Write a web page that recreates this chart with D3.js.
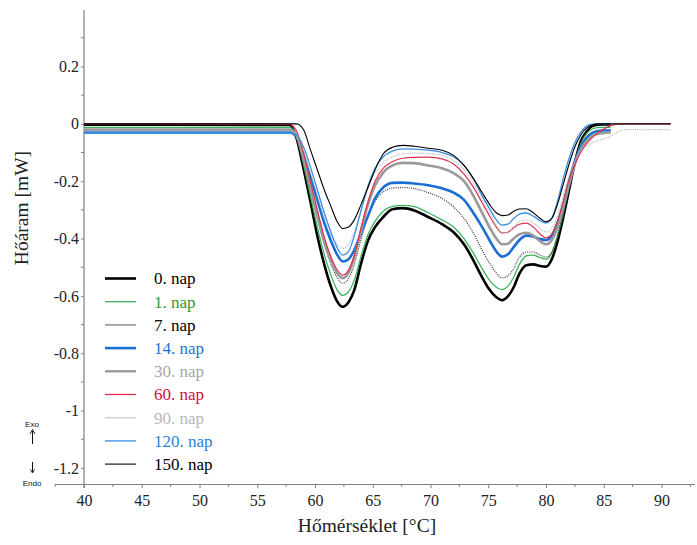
<!DOCTYPE html>
<html>
<head>
<meta charset="utf-8">
<script src="https://cdn.jsdelivr.net/npm/d3@7"></script>
<style>
  html, body { margin: 0; padding: 0; background: #fff; }
  svg { display: block; }
  .serif { font-family: "Liberation Serif", "Times New Roman", Times, serif; }
  .sans { font-family: "Liberation Sans", Arial, sans-serif; }
</style>
</head>
<body>
<svg id="chart" width="697" height="545"></svg>
<script>
// ---- data ----
const temps = [40, 57.8, 58.4, 59.0, 59.6, 60.2, 60.8, 61.4, 61.9, 62.4, 62.9, 63.4, 64.0, 64.6, 65.2, 65.9, 66.7, 67.6, 68.6, 69.8, 71.0, 72.0, 72.9, 73.7, 74.4, 75.1, 75.7, 76.2, 76.7, 77.2, 77.7, 78.3, 78.9, 79.5, 80.0, 80.5, 81.0, 81.5, 82.0, 82.5, 83.0, 83.5, 84.0, 84.5, 85.0, 85.6, 86.2, 86.8, 90.8];

const nap0 = [-0.003, -0.004, -0.05, -0.155, -0.27, -0.39, -0.49, -0.57, -0.618, -0.638, -0.622, -0.58, -0.485, -0.406, -0.36, -0.325, -0.298, -0.294, -0.302, -0.325, -0.35, -0.378, -0.42, -0.475, -0.53, -0.578, -0.605, -0.615, -0.602, -0.57, -0.522, -0.493, -0.49, -0.496, -0.498, -0.472, -0.41, -0.325, -0.23, -0.135, -0.062, -0.028, -0.008, -0.003, -0.002, -0.002, null, null, null];
const nap1 = [-0.012, -0.012, -0.045, -0.14, -0.25, -0.36, -0.455, -0.53, -0.578, -0.598, -0.585, -0.545, -0.46, -0.385, -0.34, -0.305, -0.288, -0.284, -0.289, -0.31, -0.335, -0.36, -0.4, -0.45, -0.5, -0.545, -0.57, -0.578, -0.566, -0.535, -0.49, -0.46, -0.458, -0.467, -0.472, -0.45, -0.39, -0.31, -0.22, -0.135, -0.07, -0.035, -0.018, -0.013, -0.012, -0.012, null, null, null];
const nap7 = [-0.02, -0.02, -0.05, -0.13, -0.23, -0.33, -0.42, -0.49, -0.535, -0.556, -0.54, -0.49, -0.4, -0.32, -0.27, -0.238, -0.224, -0.222, -0.226, -0.24, -0.26, -0.29, -0.33, -0.38, -0.435, -0.485, -0.52, -0.537, -0.53, -0.505, -0.465, -0.447, -0.447, -0.458, -0.465, -0.448, -0.39, -0.31, -0.22, -0.14, -0.08, -0.045, -0.03, -0.024, -0.022, -0.022, null, null, null];
const nap14 = [-0.03, -0.03, -0.045, -0.11, -0.185, -0.265, -0.345, -0.41, -0.455, -0.48, -0.472, -0.44, -0.38, -0.32, -0.26, -0.222, -0.206, -0.205, -0.208, -0.214, -0.225, -0.24, -0.265, -0.31, -0.355, -0.405, -0.445, -0.463, -0.455, -0.43, -0.405, -0.39, -0.393, -0.402, -0.405, -0.39, -0.345, -0.28, -0.2, -0.13, -0.08, -0.05, -0.032, -0.025, -0.023, -0.023, null, null, null];
const nap30 = [-0.02, -0.02, -0.04, -0.12, -0.22, -0.32, -0.41, -0.48, -0.52, -0.538, -0.52, -0.465, -0.37, -0.28, -0.215, -0.17, -0.145, -0.136, -0.137, -0.145, -0.155, -0.172, -0.2, -0.25, -0.305, -0.36, -0.4, -0.42, -0.418, -0.4, -0.385, -0.38, -0.39, -0.41, -0.42, -0.405, -0.36, -0.29, -0.21, -0.14, -0.09, -0.06, -0.042, -0.035, -0.032, -0.03, null, null, null];
const nap60 = [0.0, -0.002, -0.025, -0.1, -0.2, -0.3, -0.395, -0.465, -0.508, -0.528, -0.51, -0.46, -0.36, -0.27, -0.2, -0.155, -0.132, -0.12, -0.117, -0.116, -0.122, -0.14, -0.175, -0.22, -0.27, -0.32, -0.36, -0.38, -0.378, -0.362, -0.35, -0.346, -0.36, -0.385, -0.398, -0.385, -0.34, -0.27, -0.195, -0.14, -0.1, -0.07, -0.048, -0.03, -0.018, -0.006, -0.001, 0.0, 0.0];
const nap90 = [-0.025, -0.025, -0.035, -0.09, -0.17, -0.25, -0.33, -0.39, -0.42, -0.434, -0.42, -0.375, -0.3, -0.225, -0.17, -0.135, -0.115, -0.105, -0.102, -0.104, -0.11, -0.128, -0.16, -0.205, -0.255, -0.31, -0.355, -0.38, -0.378, -0.36, -0.342, -0.336, -0.345, -0.365, -0.377, -0.365, -0.32, -0.25, -0.18, -0.13, -0.095, -0.078, -0.066, -0.058, -0.052, -0.042, -0.028, -0.02, -0.02];
const nap120 = [-0.032, -0.032, -0.038, -0.08, -0.15, -0.23, -0.31, -0.38, -0.43, -0.458, -0.445, -0.39, -0.3, -0.215, -0.155, -0.115, -0.095, -0.087, -0.088, -0.092, -0.1, -0.115, -0.145, -0.19, -0.245, -0.295, -0.335, -0.353, -0.35, -0.33, -0.315, -0.311, -0.322, -0.338, -0.346, -0.33, -0.27, -0.19, -0.12, -0.065, -0.03, -0.008, -0.001, 0.0, 0.0, 0.0, null, null, null];
const nap150 = [0.0, 0.0, 0.0, -0.02, -0.09, -0.16, -0.23, -0.29, -0.34, -0.365, -0.36, -0.335, -0.28, -0.22, -0.16, -0.105, -0.082, -0.075, -0.078, -0.085, -0.092, -0.11, -0.145, -0.19, -0.235, -0.28, -0.31, -0.32, -0.318, -0.305, -0.297, -0.296, -0.31, -0.33, -0.342, -0.33, -0.28, -0.21, -0.14, -0.08, -0.04, -0.015, -0.004, 0.0, 0.0, 0.0, 0.0, 0.0, 0.0];

const seriesNames = ["0. nap", "1. nap", "7. nap", "14. nap", "30. nap", "60. nap", "90. nap", "120. nap", "150. nap"];
const seriesValues = [nap0, nap1, nap7, nap14, nap30, nap60, nap90, nap120, nap150];

const yTicks = [0.2, 0, -0.2, -0.4, -0.6, -0.8, -1, -1.2];
const xTicks = [40, 45, 50, 55, 60, 65, 70, 75, 80, 85, 90];

// ---- styles ----
const styles = [
  { color: "#000000", width: 2.6, dash: null, text: "#000000", legColor: "#000000", legWidth: 2.6 },
  { color: "#3cb35c", width: 1.3, dash: null, text: "#1f9e3e", legColor: "#3cb35c", legWidth: 1.3 },
  { color: "#333333", width: 1.2, dash: "1,1.2", text: "#000000", legColor: "#a0a0a0", legWidth: 1.8 },
  { color: "#1a6fd6", width: 2.6, dash: null, text: "#1f72d8", legColor: "#1a6fd6", legWidth: 2.6 },
  { color: "#9a9a9a", width: 2.6, dash: null, text: "#a6a6a6", legColor: "#9a9a9a", legWidth: 2.4 },
  { color: "#e0304c", width: 1.2, dash: null, text: "#d0103c", legColor: "#e0304c", legWidth: 1.3 },
  { color: "#b0b0b0", width: 1.2, dash: "1,1.2", text: "#b8b8b8", legColor: "#d0d0d0", legWidth: 1.5 },
  { color: "#3a8ee6", width: 1.3, dash: null, text: "#2a7fe0", legColor: "#3a8ee6", legWidth: 1.3 },
  { color: "#000000", width: 1.1, dash: null, text: "#000000", legColor: "#000000", legWidth: 1.1 }
];

const svg = d3.select("#chart");
const x = d3.scaleLinear().domain([40, 92.9]).range([84, 695]);
const y = d3.scaleLinear().domain([-1.256, 0.397]).range([484, 10]);

const axisColor = "#808080";

// x axis
const xAxis = d3.axisBottom(x).tickValues(xTicks).tickSize(4).tickFormat(d3.format("d"));
const gx = svg.append("g").attr("transform", "translate(0,484)").call(xAxis);
gx.attr("font-family", null).attr("font-size", null);
gx.select(".domain").remove();
gx.append("line").attr("x1", x(37.5)).attr("x2", x(92.9)).attr("y1", 0.5).attr("y2", 0.5)
  .attr("stroke", axisColor).attr("stroke-width", 1.2);
gx.selectAll(".tick line").attr("stroke", axisColor);
gx.selectAll(".tick text").attr("class", "serif").attr("fill", "#222").style("font-size", "16px").attr("dy", "0.95em");
const xMinor = [37.5, 42.5, 47.5, 52.5, 57.5, 62.5, 67.5, 72.5, 77.5, 82.5, 87.5, 92.5];
gx.selectAll(".minor").data(xMinor).enter().append("line")
  .attr("x1", d => x(d)).attr("x2", d => x(d)).attr("y1", 0).attr("y2", 3)
  .attr("stroke", axisColor);

// y axis
const yAxis = d3.axisLeft(y).tickValues(yTicks).tickSize(3).tickFormat(d => d3.format("")(d).replace("\u2212", "-"));
const gy = svg.append("g").attr("transform", "translate(84,0)").call(yAxis);
gy.attr("font-family", null).attr("font-size", null);
gy.select(".domain").remove();
gy.append("line").attr("x1", 0).attr("x2", 0).attr("y1", 10).attr("y2", 488)
  .attr("stroke", axisColor).attr("stroke-width", 1.2);
gy.selectAll(".tick line").attr("stroke", axisColor);
gy.selectAll(".tick text").attr("class", "serif").attr("fill", "#222").style("font-size", "16px").attr("x", -5);
const yMinor = [0.3, 0.1, -0.1, -0.3, -0.5, -0.7, -0.9, -1.1];
gy.selectAll(".minor").data(yMinor).enter().append("line")
  .attr("x1", -3).attr("x2", 0).attr("y1", d => y(d)).attr("y2", d => y(d))
  .attr("stroke", axisColor);

// curves
const line = d3.line()
  .defined(d => d[1] !== null)
  .x(d => x(d[0])).y(d => y(d[1]))
  .curve(d3.curveMonotoneX);

seriesValues.forEach((vals, i) => {
  const pts = temps.map((t, j) => [t, vals[j]]);
  svg.append("path").datum(pts)
    .attr("d", line)
    .attr("fill", "none")
    .attr("stroke", styles[i].color)
    .attr("stroke-width", styles[i].width)
    .attr("stroke-dasharray", styles[i].dash)
    .attr("stroke-linejoin", "round");
});

// legend
const lg = svg.append("g");
seriesNames.forEach((name, i) => {
  const cy = 278.5 + i * 23.2;
  lg.append("line").attr("x1", 105).attr("x2", 136).attr("y1", cy).attr("y2", cy)
    .attr("stroke", styles[i].legColor).attr("stroke-width", styles[i].legWidth);
  lg.append("text").attr("class", "serif").attr("x", 154).attr("y", cy).attr("dy", "0.35em")
    .style("font-size", "17px").attr("fill", styles[i].text)
    .text(name);
});

// axis titles
svg.append("text").attr("class", "serif").attr("x", 367).attr("y", 532).attr("text-anchor", "middle")
  .style("font-size", "19.5px").attr("fill", "#222")
  .text("Hőmérséklet [°C]");
svg.append("text").attr("class", "serif").attr("transform", "translate(28,208) rotate(-90)").attr("text-anchor", "middle")
  .style("font-size", "19.5px").attr("fill", "#222")
  .text("Hőáram [mW]");

// Exo / Endo
svg.append("text").attr("class", "sans").attr("x", 32).attr("y", 427).attr("text-anchor", "middle")
  .style("font-size", "8px").attr("fill", "#111").text("Exo");
svg.append("text").attr("class", "sans").attr("x", 32).attr("y", 486).attr("text-anchor", "middle")
  .style("font-size", "8px").attr("fill", "#111").text("Endo");
svg.append("line").attr("x1", 32.5).attr("x2", 32.5).attr("y1", 444).attr("y2", 431).attr("stroke", "#111").attr("stroke-width", 1);
svg.append("path").attr("d", "M30,434 L32.5,429.5 L35,434").attr("fill", "none").attr("stroke", "#111").attr("stroke-width", 0.9);
svg.append("line").attr("x1", 32.5).attr("x2", 32.5).attr("y1", 462).attr("y2", 472).attr("stroke", "#111").attr("stroke-width", 1);
svg.append("path").attr("d", "M30.5,469.5 L32.5,473 L34.5,469.5").attr("fill", "none").attr("stroke", "#111").attr("stroke-width", 0.9);
</script>
</body>
</html>
